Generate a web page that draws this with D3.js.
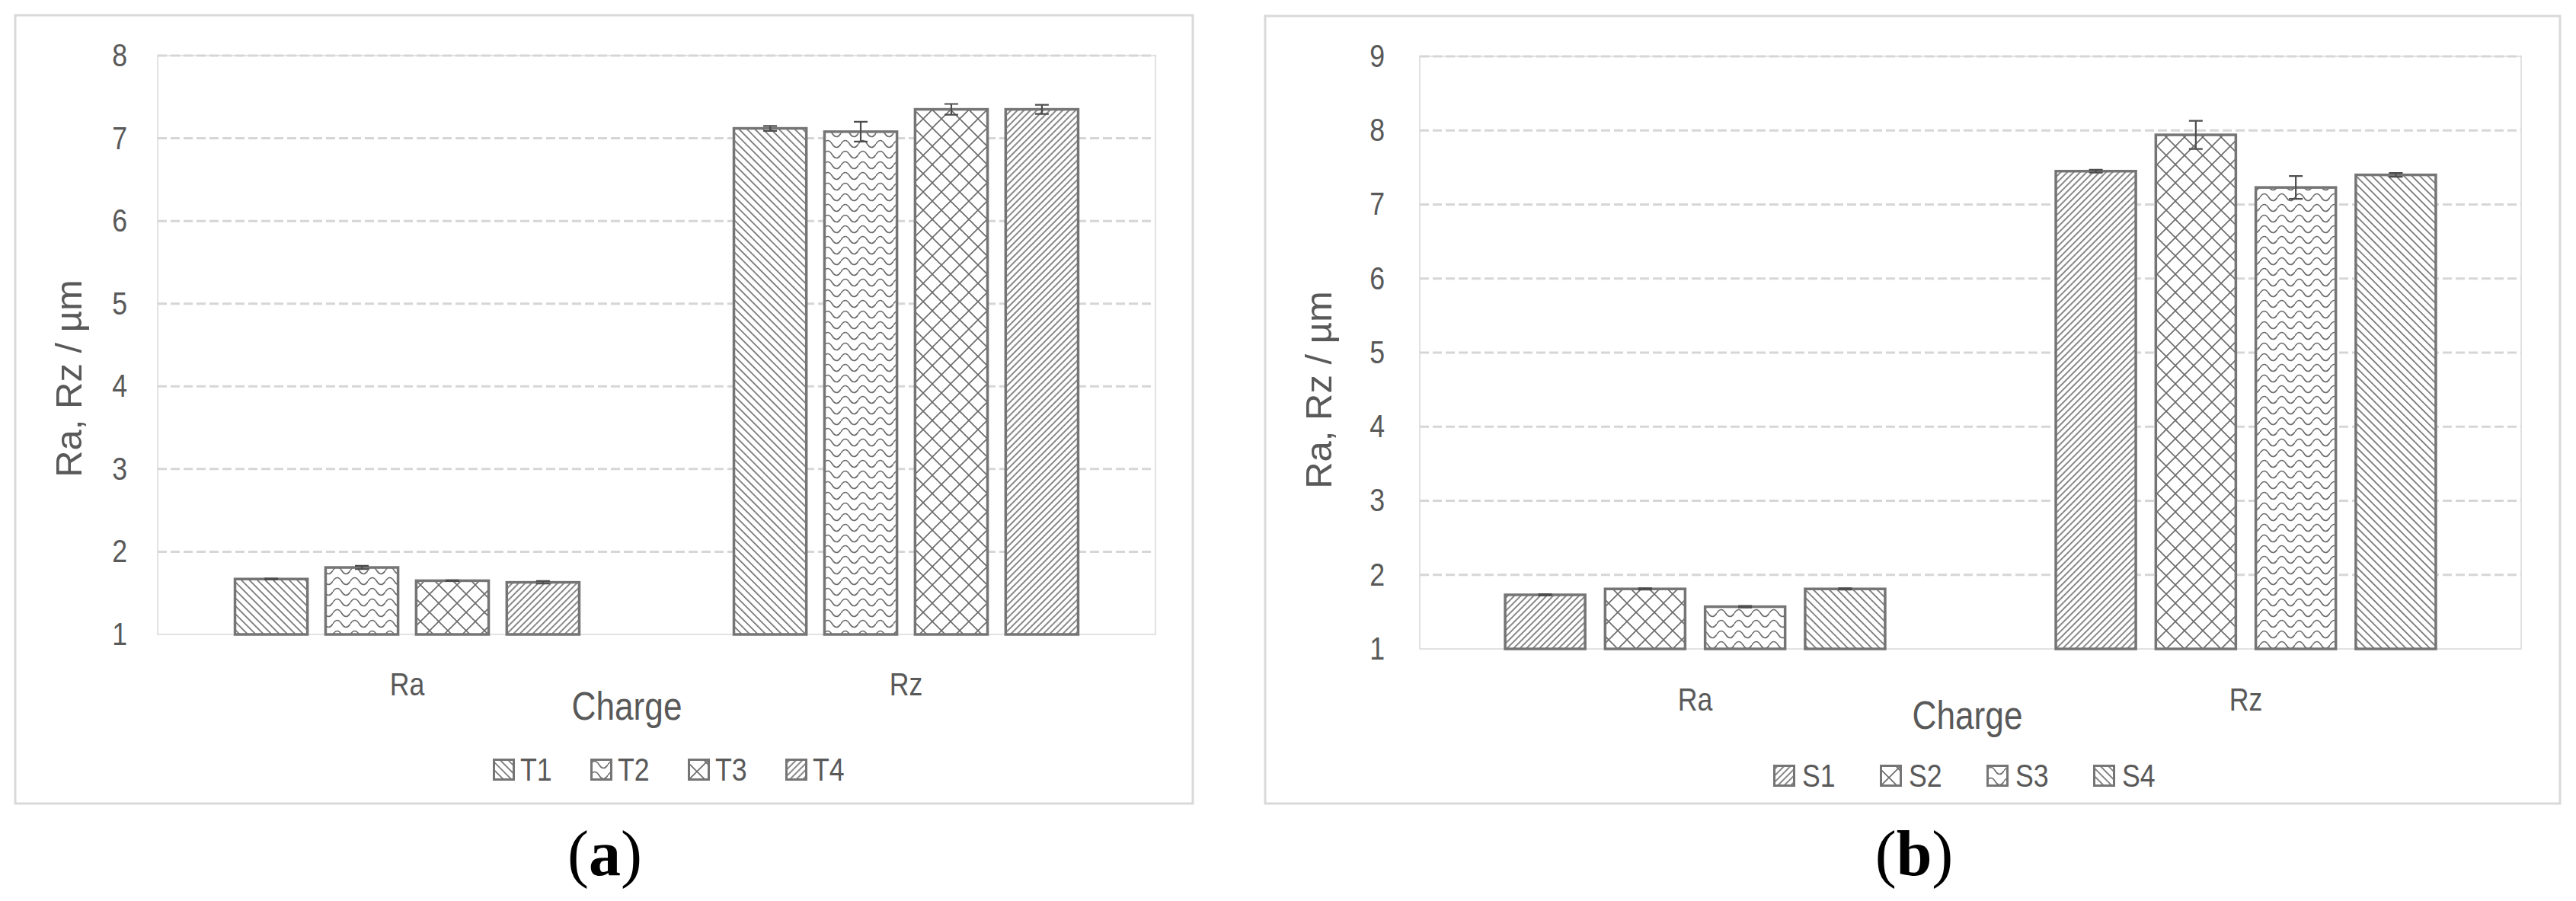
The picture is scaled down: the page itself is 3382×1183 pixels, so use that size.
<!DOCTYPE html>
<html><head><meta charset="utf-8">
<script src="https://cdn.jsdelivr.net/npm/d3@7"></script>
<style>html,body{margin:0;padding:0;background:#fff;} svg{display:block}</style>
</head><body>
<svg id="chart" width="3382" height="1183"></svg>
<script>
// ---------------- data ----------------
const categories = ["Ra", "Rz"];
const seriesA = ["T1", "T2", "T3", "T4"];
const meanA = [[1.67, 7.12], [1.81, 7.08], [1.65, 7.35], [1.63, 7.35]];
const errA  = [[0.005, 0.03], [0.02, 0.12], [0.005, 0.065], [0.015, 0.055]];
const ticksA = [1, 2, 3, 4, 5, 6, 7, 8];
const seriesB = ["S1", "S2", "S3", "S4"];
const meanB = [[1.73, 7.45], [1.81, 7.94], [1.57, 7.23], [1.81, 7.40]];
const errB  = [[0.01, 0.02], [0.01, 0.19], [0.01, 0.155], [0.01, 0.025]];
const ticksB = [1, 2, 3, 4, 5, 6, 7, 8, 9];
const yTitle = "Ra, Rz / µm";
const xTitle = "Charge";
const panelLetters = ["a", "b"];

// ---------------- style ----------------
const F = "'Liberation Sans',Arial,sans-serif";
const SX = 0.85; // horizontal condensing of the sans text
const TXT = "#595959";
const PC = "#6b6b6b";
const patternsA = ["diagDown", "wave", "diamond", "diagUp"];
const patternsB = ["diagUp", "diamond", "wave", "diagDown"];

const svg = d3.select("#chart");
svg.append("rect").attr("width", 3382).attr("height", 1183).attr("fill", "#fff");
const defs = svg.append("defs");

function diag(id, s, angle) {
  const p = defs.append("pattern").attr("id", id).attr("patternUnits", "userSpaceOnUse")
    .attr("width", s).attr("height", s).attr("patternTransform", `rotate(${angle})`);
  p.append("rect").attr("width", s).attr("height", s).attr("fill", "#fff");
  p.append("line").attr("x1", s / 2).attr("x2", s / 2).attr("y1", -1).attr("y2", s + 1)
    .attr("stroke", PC).attr("stroke-width", 1.6);
}
diag("diagDown", 7.4, -45);
diag("diagUp", 6.0, 45);
{
  const p = defs.append("pattern").attr("id", "wave").attr("patternUnits", "userSpaceOnUse")
    .attr("width", 23).attr("height", 14);
  p.append("rect").attr("width", 23).attr("height", 14).attr("fill", "#fff");
  p.append("path").attr("d", "M0,7 C3.8,1 7.7,1 11.5,7 C15.3,13 19.2,13 23,7")
    .attr("fill", "none").attr("stroke", PC).attr("stroke-width", 1.6);
}
{
  const s = 24;
  const p = defs.append("pattern").attr("id", "diamond").attr("patternUnits", "userSpaceOnUse")
    .attr("width", s).attr("height", s);
  p.append("rect").attr("width", s).attr("height", s).attr("fill", "#fff");
  p.append("path").attr("d", `M0,0 L${s},${s} M${s},0 L0,${s} M-2,2 L2,-2 M${s-2},${s+2} L${s+2},${s-2} M-2,${s-2} L2,${s+2} M${s-2},-2 L${s+2},2`)
    .attr("fill", "none").attr("stroke", PC).attr("stroke-width", 1.6);
}

function drawPanel(o) {
  const g = svg.append("g");
  const [fx0, fy0, fx1, fy1] = o.frame;
  const [px0, py0, px1, py1] = o.plot;
  g.append("rect").attr("x", fx0).attr("y", fy0).attr("width", fx1 - fx0).attr("height", fy1 - fy0)
    .attr("fill", "#fff").attr("stroke", "#d9d9d9").attr("stroke-width", 3);

  const y = d3.scaleLinear().domain([o.ticks[0], o.ticks[o.ticks.length - 1]]).range([py1, py0]);
  const x0 = d3.scaleBand().domain(categories).range([px0, px1]);
  const groupW = x0.bandwidth() * 0.69;
  const x1 = d3.scaleBand().domain(o.series).range([0, groupW]).paddingInner(0.2);

  // plot area border
  g.append("rect").attr("x", px0).attr("y", py0).attr("width", px1 - px0).attr("height", py1 - py0)
    .attr("fill", "none").attr("stroke", "#e2e2e2").attr("stroke-width", 2);
  // dashed gridlines
  g.append("g").selectAll("line").data(o.ticks.slice(1)).join("line")
    .attr("x1", px0).attr("x2", px1).attr("y1", d => y(d)).attr("y2", d => y(d))
    .attr("stroke", "#d6d6d6").attr("stroke-width", 3).attr("stroke-dasharray", "12,5");

  // y axis
  const ya = g.append("g").attr("transform", `translate(${px0},0)`)
    .call(d3.axisLeft(y).tickValues(o.ticks).tickSize(0).tickPadding(o.tickPad).tickFormat(d3.format("d")));
  ya.select(".domain").remove();
  ya.selectAll("text").attr("x", -o.tickPad / SX).attr("transform", `scale(${SX},1)`)
    .attr("font-size", 42).attr("fill", TXT).attr("font-family", F);

  // x axis (category labels)
  const xa = g.append("g").attr("transform", `translate(0,${py1})`)
    .call(d3.axisBottom(x0).tickSize(0).tickPadding(0));
  xa.select(".domain").remove();
  xa.selectAll("text").attr("dy", null).attr("y", o.catY).attr("transform", `scale(${SX},1)`)
    .attr("font-size", 42).attr("fill", TXT).attr("font-family", F);

  // bars
  const rows = o.series.flatMap((s, i) => categories.map((c, j) => ({ s, i, c, m: o.mean[i][j], e: o.err[i][j] })));
  const bx = d => x0(d.c) + (x0.bandwidth() - groupW) / 2 + x1(d.s);
  g.append("g").selectAll("rect").data(rows).join("rect")
    .attr("x", bx).attr("width", x1.bandwidth())
    .attr("y", d => y(d.m)).attr("height", d => y(o.ticks[0]) - y(d.m))
    .attr("fill", d => `url(#${o.patterns[d.i]})`)
    .attr("stroke", "#757575").attr("stroke-width", 3.5);

  // error bars
  const eg = g.append("g").attr("stroke", "#4d4d4d").attr("stroke-width", 2.2).attr("fill", "none");
  const cx = d => bx(d) + x1.bandwidth() / 2;
  eg.selectAll("path").data(rows).join("path")
    .attr("d", d => {
      const xc = cx(d), yt = y(d.m + d.e), yb = y(d.m - d.e), h = 9;
      return `M${xc},${yt}L${xc},${yb}M${xc - h},${yt}L${xc + h},${yt}M${xc - h},${yb}L${xc + h},${yb}`;
    });

  // axis titles
  g.append("text").attr("transform", `translate(${o.yTitle[0]},${o.yTitle[1]}) rotate(-90)`)
    .attr("text-anchor", "middle").attr("font-family", F).attr("font-size", 49).attr("fill", TXT)
    .text(yTitle);
  g.append("text").attr("transform", `translate(${o.xTitle[0]},${o.xTitle[1]}) scale(${SX},1)`)
    .attr("text-anchor", "middle").attr("font-family", F).attr("font-size", 52).attr("fill", TXT)
    .text(xTitle);

  // legend
  const lg = g.append("g").selectAll("g").data(o.series).join("g")
    .attr("transform", (d, i) => `translate(${o.legend[0] + i * o.legend[2]},${o.legend[1]})`);
  lg.append("rect").attr("x", 1.5).attr("y", -27.5).attr("width", 26).attr("height", 26)
    .attr("fill", (d, i) => `url(#${o.patterns[i]})`).attr("stroke", "#757575").attr("stroke-width", 3);
  lg.append("text").attr("x", o.legend[3] / SX).attr("y", 0).attr("transform", `scale(${SX},1)`)
    .attr("font-family", F).attr("font-size", 42).attr("fill", TXT).text(d => d);

  // panel label
  const pl = svg.append("text").attr("x", o.label[0]).attr("y", o.label[1]).attr("text-anchor", "middle")
    .attr("font-family", "'Liberation Serif','Times New Roman',serif").attr("font-size", 84).attr("fill", "#000");
  pl.append("tspan").text("(");
  pl.append("tspan").attr("font-weight", "bold").text(o.letter);
  pl.append("tspan").text(")");
}

drawPanel({
  frame: [20, 20, 1566, 1055], plot: [207, 73, 1517, 833],
  ticks: ticksA, series: seriesA, mean: meanA, err: errA, patterns: patternsA,
  tickPad: 40, catY: 80, yTitle: [107, 497], xTitle: [823, 945],
  legend: [647, 1025, 128, 36], label: [794, 1149], letter: panelLetters[0]
});
drawPanel({
  frame: [1661, 21, 3361, 1055], plot: [1864, 74, 3310, 852],
  ticks: ticksB, series: seriesB, mean: meanB, err: errB, patterns: patternsB,
  tickPad: 46, catY: 81, yTitle: [1748, 512], xTitle: [2583, 957],
  legend: [2328, 1033, 140, 38], label: [2513, 1149], letter: panelLetters[1]
});
</script>
</body></html>
